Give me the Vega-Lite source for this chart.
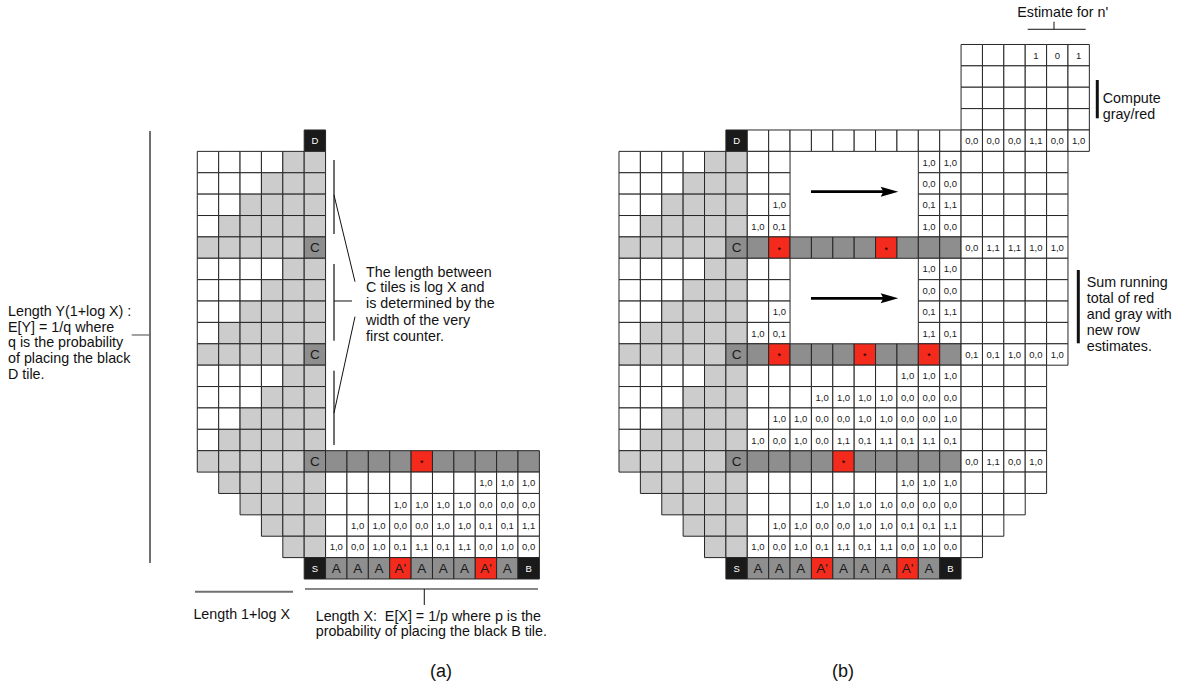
{
"$schema": "https://vega.github.io/schema/vega-lite/v6.json",
"padding": 0,
"spacing": 0,
"background": "#ffffff",
"config": {"view": {"stroke": null}, "concat": {"spacing": 0}, "font": "Liberation Sans", "text": {"font": "Liberation Sans"}},
"resolve": {"scale": {"x": "independent", "y": "independent"}},
"datasets": {
"cells": [
{"c":5,"r":0,"t":"k","s":"D"},
{"c":0,"r":1,"t":"w"},{"c":1,"r":1,"t":"w"},{"c":2,"r":1,"t":"w"},{"c":3,"r":1,"t":"w"},{"c":4,"r":1,"t":"l"},{"c":5,"r":1,"t":"l"},
{"c":0,"r":2,"t":"w"},{"c":1,"r":2,"t":"w"},{"c":2,"r":2,"t":"w"},{"c":3,"r":2,"t":"l"},{"c":4,"r":2,"t":"l"},{"c":5,"r":2,"t":"l"},
{"c":0,"r":3,"t":"w"},{"c":1,"r":3,"t":"w"},{"c":2,"r":3,"t":"l"},{"c":3,"r":3,"t":"l"},{"c":4,"r":3,"t":"l"},{"c":5,"r":3,"t":"l"},
{"c":0,"r":4,"t":"w"},{"c":1,"r":4,"t":"l"},{"c":2,"r":4,"t":"l"},{"c":3,"r":4,"t":"l"},{"c":4,"r":4,"t":"l"},{"c":5,"r":4,"t":"l"},
{"c":0,"r":5,"t":"l"},{"c":1,"r":5,"t":"l"},{"c":2,"r":5,"t":"l"},{"c":3,"r":5,"t":"l"},{"c":4,"r":5,"t":"l"},{"c":5,"r":5,"t":"d","s":"C"},
{"c":0,"r":6,"t":"w"},{"c":1,"r":6,"t":"w"},{"c":2,"r":6,"t":"w"},{"c":3,"r":6,"t":"w"},{"c":4,"r":6,"t":"l"},{"c":5,"r":6,"t":"l"},
{"c":0,"r":7,"t":"w"},{"c":1,"r":7,"t":"w"},{"c":2,"r":7,"t":"w"},{"c":3,"r":7,"t":"l"},{"c":4,"r":7,"t":"l"},{"c":5,"r":7,"t":"l"},
{"c":0,"r":8,"t":"w"},{"c":1,"r":8,"t":"w"},{"c":2,"r":8,"t":"l"},{"c":3,"r":8,"t":"l"},{"c":4,"r":8,"t":"l"},{"c":5,"r":8,"t":"l"},
{"c":0,"r":9,"t":"w"},{"c":1,"r":9,"t":"l"},{"c":2,"r":9,"t":"l"},{"c":3,"r":9,"t":"l"},{"c":4,"r":9,"t":"l"},{"c":5,"r":9,"t":"l"},
{"c":0,"r":10,"t":"l"},{"c":1,"r":10,"t":"l"},{"c":2,"r":10,"t":"l"},{"c":3,"r":10,"t":"l"},{"c":4,"r":10,"t":"l"},{"c":5,"r":10,"t":"d","s":"C"},
{"c":0,"r":11,"t":"w"},{"c":1,"r":11,"t":"w"},{"c":2,"r":11,"t":"w"},{"c":3,"r":11,"t":"w"},{"c":4,"r":11,"t":"l"},{"c":5,"r":11,"t":"l"},
{"c":0,"r":12,"t":"w"},{"c":1,"r":12,"t":"w"},{"c":2,"r":12,"t":"w"},{"c":3,"r":12,"t":"l"},{"c":4,"r":12,"t":"l"},{"c":5,"r":12,"t":"l"},
{"c":0,"r":13,"t":"w"},{"c":1,"r":13,"t":"w"},{"c":2,"r":13,"t":"l"},{"c":3,"r":13,"t":"l"},{"c":4,"r":13,"t":"l"},{"c":5,"r":13,"t":"l"},
{"c":0,"r":14,"t":"w"},{"c":1,"r":14,"t":"l"},{"c":2,"r":14,"t":"l"},{"c":3,"r":14,"t":"l"},{"c":4,"r":14,"t":"l"},{"c":5,"r":14,"t":"l"},
{"c":0,"r":15,"t":"l"},{"c":1,"r":15,"t":"l"},{"c":2,"r":15,"t":"l"},{"c":3,"r":15,"t":"l"},{"c":4,"r":15,"t":"l"},{"c":5,"r":15,"t":"d","s":"C"},
{"c":6,"r":15,"t":"d"},{"c":7,"r":15,"t":"d"},{"c":8,"r":15,"t":"d"},{"c":9,"r":15,"t":"d"},{"c":10,"r":15,"t":"r","s":"*"},{"c":11,"r":15,"t":"d"},{"c":12,"r":15,"t":"d"},{"c":13,"r":15,"t":"d"},{"c":14,"r":15,"t":"d"},{"c":15,"r":15,"t":"d"},
{"c":1,"r":16,"t":"l"},{"c":2,"r":16,"t":"l"},{"c":3,"r":16,"t":"l"},{"c":4,"r":16,"t":"l"},{"c":5,"r":16,"t":"l"},
{"c":6,"r":16,"t":"w"},{"c":7,"r":16,"t":"w"},{"c":8,"r":16,"t":"w"},{"c":9,"r":16,"t":"w"},{"c":10,"r":16,"t":"w"},{"c":11,"r":16,"t":"w"},{"c":12,"r":16,"t":"w"},{"c":13,"r":16,"t":"w","s":"1,0"},{"c":14,"r":16,"t":"w","s":"1,0"},{"c":15,"r":16,"t":"w","s":"1,0"},
{"c":2,"r":17,"t":"l"},{"c":3,"r":17,"t":"l"},{"c":4,"r":17,"t":"l"},{"c":5,"r":17,"t":"l"},
{"c":6,"r":17,"t":"w"},{"c":7,"r":17,"t":"w"},{"c":8,"r":17,"t":"w"},{"c":9,"r":17,"t":"w","s":"1,0"},{"c":10,"r":17,"t":"w","s":"1,0"},{"c":11,"r":17,"t":"w","s":"1,0"},{"c":12,"r":17,"t":"w","s":"1,0"},{"c":13,"r":17,"t":"w","s":"0,0"},{"c":14,"r":17,"t":"w","s":"0,0"},{"c":15,"r":17,"t":"w","s":"0,0"},
{"c":3,"r":18,"t":"l"},{"c":4,"r":18,"t":"l"},{"c":5,"r":18,"t":"l"},
{"c":6,"r":18,"t":"w"},{"c":7,"r":18,"t":"w","s":"1,0"},{"c":8,"r":18,"t":"w","s":"1,0"},{"c":9,"r":18,"t":"w","s":"0,0"},{"c":10,"r":18,"t":"w","s":"0,0"},{"c":11,"r":18,"t":"w","s":"1,0"},{"c":12,"r":18,"t":"w","s":"1,0"},{"c":13,"r":18,"t":"w","s":"0,1"},{"c":14,"r":18,"t":"w","s":"0,1"},{"c":15,"r":18,"t":"w","s":"1,1"},
{"c":4,"r":19,"t":"l"},{"c":5,"r":19,"t":"l"},
{"c":6,"r":19,"t":"w","s":"1,0"},{"c":7,"r":19,"t":"w","s":"0,0"},{"c":8,"r":19,"t":"w","s":"1,0"},{"c":9,"r":19,"t":"w","s":"0,1"},{"c":10,"r":19,"t":"w","s":"1,1"},{"c":11,"r":19,"t":"w","s":"0,1"},{"c":12,"r":19,"t":"w","s":"1,1"},{"c":13,"r":19,"t":"w","s":"0,0"},{"c":14,"r":19,"t":"w","s":"1,0"},{"c":15,"r":19,"t":"w","s":"0,0"},
{"c":5,"r":20,"t":"k","s":"S"},{"c":6,"r":20,"t":"d","s":"A"},{"c":7,"r":20,"t":"d","s":"A"},{"c":8,"r":20,"t":"d","s":"A"},{"c":9,"r":20,"t":"r","s":"A'"},{"c":10,"r":20,"t":"d","s":"A"},{"c":11,"r":20,"t":"d","s":"A"},{"c":12,"r":20,"t":"d","s":"A"},{"c":13,"r":20,"t":"r","s":"A'"},{"c":14,"r":20,"t":"d","s":"A"},{"c":15,"r":20,"t":"k","s":"B"},

{"c":16,"r":-4,"t":"w","p":"b"},{"c":17,"r":-4,"t":"w","p":"b"},{"c":18,"r":-4,"t":"w","p":"b"},{"c":19,"r":-4,"t":"w","s":"1","p":"b"},{"c":20,"r":-4,"t":"w","s":"0","p":"b"},{"c":21,"r":-4,"t":"w","s":"1","p":"b"},
{"c":16,"r":-3,"t":"w","p":"b"},{"c":17,"r":-3,"t":"w","p":"b"},{"c":18,"r":-3,"t":"w","p":"b"},{"c":19,"r":-3,"t":"w","p":"b"},{"c":20,"r":-3,"t":"w","p":"b"},{"c":21,"r":-3,"t":"w","p":"b"},
{"c":16,"r":-2,"t":"w","p":"b"},{"c":17,"r":-2,"t":"w","p":"b"},{"c":18,"r":-2,"t":"w","p":"b"},{"c":19,"r":-2,"t":"w","p":"b"},{"c":20,"r":-2,"t":"w","p":"b"},{"c":21,"r":-2,"t":"w","p":"b"},
{"c":16,"r":-1,"t":"w","p":"b"},{"c":17,"r":-1,"t":"w","p":"b"},{"c":18,"r":-1,"t":"w","p":"b"},{"c":19,"r":-1,"t":"w","p":"b"},{"c":20,"r":-1,"t":"w","p":"b"},{"c":21,"r":-1,"t":"w","p":"b"},
{"c":6,"r":0,"t":"w","p":"b"},{"c":7,"r":0,"t":"w","p":"b"},{"c":8,"r":0,"t":"w","p":"b"},{"c":9,"r":0,"t":"w","p":"b"},{"c":10,"r":0,"t":"w","p":"b"},{"c":11,"r":0,"t":"w","p":"b"},{"c":12,"r":0,"t":"w","p":"b"},{"c":13,"r":0,"t":"w","p":"b"},{"c":14,"r":0,"t":"w","p":"b"},{"c":15,"r":0,"t":"w","p":"b"},
{"c":16,"r":0,"t":"w","s":"0,0","p":"b"},{"c":17,"r":0,"t":"w","s":"0,0","p":"b"},{"c":18,"r":0,"t":"w","s":"0,0","p":"b"},{"c":19,"r":0,"t":"w","s":"1,1","p":"b"},{"c":20,"r":0,"t":"w","s":"0,0","p":"b"},{"c":21,"r":0,"t":"w","s":"1,0","p":"b"},
{"c":6,"r":1,"t":"w","p":"b"},{"c":7,"r":1,"t":"w","p":"b"},{"c":14,"r":1,"t":"w","s":"1,0","p":"b"},{"c":15,"r":1,"t":"w","s":"1,0","p":"b"},
{"c":16,"r":1,"t":"w","p":"b"},{"c":17,"r":1,"t":"w","p":"b"},{"c":18,"r":1,"t":"w","p":"b"},{"c":19,"r":1,"t":"w","p":"b"},{"c":20,"r":1,"t":"w","p":"b"},
{"c":6,"r":2,"t":"w","p":"b"},{"c":7,"r":2,"t":"w","p":"b"},{"c":14,"r":2,"t":"w","s":"0,0","p":"b"},{"c":15,"r":2,"t":"w","s":"0,0","p":"b"},
{"c":16,"r":2,"t":"w","p":"b"},{"c":17,"r":2,"t":"w","p":"b"},{"c":18,"r":2,"t":"w","p":"b"},{"c":19,"r":2,"t":"w","p":"b"},{"c":20,"r":2,"t":"w","p":"b"},
{"c":6,"r":3,"t":"w","p":"b"},{"c":7,"r":3,"t":"w","s":"1,0","p":"b"},{"c":14,"r":3,"t":"w","s":"0,1","p":"b"},{"c":15,"r":3,"t":"w","s":"1,1","p":"b"},
{"c":16,"r":3,"t":"w","p":"b"},{"c":17,"r":3,"t":"w","p":"b"},{"c":18,"r":3,"t":"w","p":"b"},{"c":19,"r":3,"t":"w","p":"b"},{"c":20,"r":3,"t":"w","p":"b"},
{"c":6,"r":4,"t":"w","s":"1,0","p":"b"},{"c":7,"r":4,"t":"w","s":"0,1","p":"b"},{"c":14,"r":4,"t":"w","s":"1,0","p":"b"},{"c":15,"r":4,"t":"w","s":"0,0","p":"b"},
{"c":16,"r":4,"t":"w","p":"b"},{"c":17,"r":4,"t":"w","p":"b"},{"c":18,"r":4,"t":"w","p":"b"},{"c":19,"r":4,"t":"w","p":"b"},{"c":20,"r":4,"t":"w","p":"b"},
{"c":6,"r":5,"t":"d","p":"b"},{"c":7,"r":5,"t":"r","s":"*","p":"b"},{"c":8,"r":5,"t":"d","p":"b"},{"c":9,"r":5,"t":"d","p":"b"},{"c":10,"r":5,"t":"d","p":"b"},{"c":11,"r":5,"t":"d","p":"b"},{"c":12,"r":5,"t":"r","s":"*","p":"b"},{"c":13,"r":5,"t":"d","p":"b"},{"c":14,"r":5,"t":"d","p":"b"},{"c":15,"r":5,"t":"d","p":"b"},
{"c":16,"r":5,"t":"w","s":"0,0","p":"b"},{"c":17,"r":5,"t":"w","s":"1,1","p":"b"},{"c":18,"r":5,"t":"w","s":"1,1","p":"b"},{"c":19,"r":5,"t":"w","s":"1,0","p":"b"},{"c":20,"r":5,"t":"w","s":"1,0","p":"b"},
{"c":6,"r":6,"t":"w","p":"b"},{"c":7,"r":6,"t":"w","p":"b"},{"c":14,"r":6,"t":"w","s":"1,0","p":"b"},{"c":15,"r":6,"t":"w","s":"1,0","p":"b"},
{"c":16,"r":6,"t":"w","p":"b"},{"c":17,"r":6,"t":"w","p":"b"},{"c":18,"r":6,"t":"w","p":"b"},{"c":19,"r":6,"t":"w","p":"b"},{"c":20,"r":6,"t":"w","p":"b"},
{"c":6,"r":7,"t":"w","p":"b"},{"c":7,"r":7,"t":"w","p":"b"},{"c":14,"r":7,"t":"w","s":"0,0","p":"b"},{"c":15,"r":7,"t":"w","s":"0,0","p":"b"},
{"c":16,"r":7,"t":"w","p":"b"},{"c":17,"r":7,"t":"w","p":"b"},{"c":18,"r":7,"t":"w","p":"b"},{"c":19,"r":7,"t":"w","p":"b"},{"c":20,"r":7,"t":"w","p":"b"},
{"c":6,"r":8,"t":"w","p":"b"},{"c":7,"r":8,"t":"w","s":"1,0","p":"b"},{"c":14,"r":8,"t":"w","s":"0,1","p":"b"},{"c":15,"r":8,"t":"w","s":"1,1","p":"b"},
{"c":16,"r":8,"t":"w","p":"b"},{"c":17,"r":8,"t":"w","p":"b"},{"c":18,"r":8,"t":"w","p":"b"},{"c":19,"r":8,"t":"w","p":"b"},{"c":20,"r":8,"t":"w","p":"b"},
{"c":6,"r":9,"t":"w","s":"1,0","p":"b"},{"c":7,"r":9,"t":"w","s":"0,1","p":"b"},{"c":14,"r":9,"t":"w","s":"1,1","p":"b"},{"c":15,"r":9,"t":"w","s":"0,1","p":"b"},
{"c":16,"r":9,"t":"w","p":"b"},{"c":17,"r":9,"t":"w","p":"b"},{"c":18,"r":9,"t":"w","p":"b"},{"c":19,"r":9,"t":"w","p":"b"},{"c":20,"r":9,"t":"w","p":"b"},
{"c":6,"r":10,"t":"d","p":"b"},{"c":7,"r":10,"t":"r","s":"*","p":"b"},{"c":8,"r":10,"t":"d","p":"b"},{"c":9,"r":10,"t":"d","p":"b"},{"c":10,"r":10,"t":"d","p":"b"},{"c":11,"r":10,"t":"r","s":"*","p":"b"},{"c":12,"r":10,"t":"d","p":"b"},{"c":13,"r":10,"t":"d","p":"b"},{"c":14,"r":10,"t":"r","s":"*","p":"b"},{"c":15,"r":10,"t":"d","p":"b"},
{"c":16,"r":10,"t":"w","s":"0,1","p":"b"},{"c":17,"r":10,"t":"w","s":"0,1","p":"b"},{"c":18,"r":10,"t":"w","s":"1,0","p":"b"},{"c":19,"r":10,"t":"w","s":"0,0","p":"b"},{"c":20,"r":10,"t":"w","s":"1,0","p":"b"},
{"c":6,"r":11,"t":"w","p":"b"},{"c":7,"r":11,"t":"w","p":"b"},{"c":8,"r":11,"t":"w","p":"b"},{"c":9,"r":11,"t":"w","p":"b"},{"c":10,"r":11,"t":"w","p":"b"},{"c":11,"r":11,"t":"w","p":"b"},{"c":12,"r":11,"t":"w","p":"b"},{"c":13,"r":11,"t":"w","s":"1,0","p":"b"},{"c":14,"r":11,"t":"w","s":"1,0","p":"b"},{"c":15,"r":11,"t":"w","s":"1,0","p":"b"},
{"c":16,"r":11,"t":"w","p":"b"},{"c":17,"r":11,"t":"w","p":"b"},{"c":18,"r":11,"t":"w","p":"b"},{"c":19,"r":11,"t":"w","p":"b"},
{"c":6,"r":12,"t":"w","p":"b"},{"c":7,"r":12,"t":"w","p":"b"},{"c":8,"r":12,"t":"w","p":"b"},{"c":9,"r":12,"t":"w","s":"1,0","p":"b"},{"c":10,"r":12,"t":"w","s":"1,0","p":"b"},{"c":11,"r":12,"t":"w","s":"1,0","p":"b"},{"c":12,"r":12,"t":"w","s":"1,0","p":"b"},{"c":13,"r":12,"t":"w","s":"0,0","p":"b"},{"c":14,"r":12,"t":"w","s":"0,0","p":"b"},{"c":15,"r":12,"t":"w","s":"0,0","p":"b"},
{"c":16,"r":12,"t":"w","p":"b"},{"c":17,"r":12,"t":"w","p":"b"},{"c":18,"r":12,"t":"w","p":"b"},{"c":19,"r":12,"t":"w","p":"b"},
{"c":6,"r":13,"t":"w","p":"b"},{"c":7,"r":13,"t":"w","s":"1,0","p":"b"},{"c":8,"r":13,"t":"w","s":"1,0","p":"b"},{"c":9,"r":13,"t":"w","s":"0,0","p":"b"},{"c":10,"r":13,"t":"w","s":"0,0","p":"b"},{"c":11,"r":13,"t":"w","s":"1,0","p":"b"},{"c":12,"r":13,"t":"w","s":"1,0","p":"b"},{"c":13,"r":13,"t":"w","s":"0,0","p":"b"},{"c":14,"r":13,"t":"w","s":"0,0","p":"b"},{"c":15,"r":13,"t":"w","s":"1,0","p":"b"},
{"c":16,"r":13,"t":"w","p":"b"},{"c":17,"r":13,"t":"w","p":"b"},{"c":18,"r":13,"t":"w","p":"b"},{"c":19,"r":13,"t":"w","p":"b"},
{"c":6,"r":14,"t":"w","s":"1,0","p":"b"},{"c":7,"r":14,"t":"w","s":"0,0","p":"b"},{"c":8,"r":14,"t":"w","s":"1,0","p":"b"},{"c":9,"r":14,"t":"w","s":"0,0","p":"b"},{"c":10,"r":14,"t":"w","s":"1,1","p":"b"},{"c":11,"r":14,"t":"w","s":"0,1","p":"b"},{"c":12,"r":14,"t":"w","s":"1,1","p":"b"},{"c":13,"r":14,"t":"w","s":"0,1","p":"b"},{"c":14,"r":14,"t":"w","s":"1,1","p":"b"},{"c":15,"r":14,"t":"w","s":"0,1","p":"b"},
{"c":16,"r":14,"t":"w","p":"b"},{"c":17,"r":14,"t":"w","p":"b"},{"c":18,"r":14,"t":"w","p":"b"},{"c":19,"r":14,"t":"w","p":"b"},
{"c":16,"r":15,"t":"w","s":"0,0","p":"b"},{"c":17,"r":15,"t":"w","s":"1,1","p":"b"},{"c":18,"r":15,"t":"w","s":"0,0","p":"b"},{"c":19,"r":15,"t":"w","s":"1,0","p":"b"},
{"c":16,"r":16,"t":"w","p":"b"},{"c":17,"r":16,"t":"w","p":"b"},{"c":18,"r":16,"t":"w","p":"b"},{"c":19,"r":16,"t":"w","p":"b"},
{"c":16,"r":17,"t":"w","p":"b"},{"c":17,"r":17,"t":"w","p":"b"},{"c":18,"r":17,"t":"w","p":"b"},
{"c":16,"r":18,"t":"w","p":"b"},{"c":17,"r":18,"t":"w","p":"b"},
{"c":16,"r":19,"t":"w","p":"b"}
],
"linesA": [
{"c":-2.712,"r":-0.453,"c2":-2.712,"r2":19.754,"g":"gray"},
{"c":-3.568,"r":9.088,"c2":-2.712,"r2":9.088,"g":"grayThin"},
{"c":5.894,"r":0.903,"c2":5.894,"r2":4.364,"g":"gray"},
{"c":5.894,"r":5.768,"c2":5.894,"r2":9.355,"g":"gray"},
{"c":5.894,"r":10.758,"c2":5.894,"r2":14.233,"g":"gray"},
{"c":5.894,"r":2.54,"c2":6.876,"r2":6.595,"g":"thin"},
{"c":5.894,"r":7.498,"c2":6.736,"r2":7.498,"g":"thin"},
{"c":6.876,"r":8.232,"c2":5.894,"r2":12.737,"g":"thin"},
{"c":-0.608,"r":21.095,"c2":3.976,"r2":21.095,"g":"gray"},
{"c":4.537,"r":20.968,"c2":15.435,"r2":20.968,"g":"thin"},
{"c":10.117,"r":20.968,"c2":10.117,"r2":21.717,"g":"thin"}
],
"linesB": [
{"c":18.616,"r":-5.21,"c2":21.329,"r2":-5.21,"g":"thin"},
{"c":19.846,"r":-5.565,"c2":19.846,"r2":-5.21,"g":"thin"},
{"c":21.871,"r":-2.839,"c2":21.871,"r2":-1.047,"g":"thick"},
{"c":20.983,"r":6.048,"c2":20.983,"r2":9.477,"g":"thick"},
{"c":8.48,"r":2.386,"c2":12.0,"r2":2.386,"g":"arrow"},
{"c":8.48,"r":7.372,"c2":12.0,"r2":7.372,"g":"arrow"}
],
"headsB": [
{"c":12.152,"r":2.386},
{"c":12.152,"r":7.372}
],
"textA": [
{"c":-9.354,"r":7.999,"s":"Length Y(1+log X) :","k":"L"},
{"c":-9.354,"r":8.747,"s":"E[Y] = 1/q where","k":"L"},
{"c":-9.354,"r":9.477,"s":"q is the probability","k":"L"},
{"c":-9.354,"r":10.225,"s":"of placing the black","k":"L"},
{"c":-9.354,"r":10.959,"s":"D tile.","k":"L"},
{"c":7.391,"r":6.174,"s":"The length between","k":"L"},
{"c":7.391,"r":6.904,"s":"C tiles is log X and","k":"L"},
{"c":7.391,"r":7.652,"s":"is determined by the","k":"L"},
{"c":7.391,"r":8.42,"s":"width of the very","k":"L"},
{"c":7.391,"r":9.168,"s":"first counter.","k":"L"},
{"c":1.577,"r":22.185,"s":"Length 1+log X","k":"C"},
{"c":5.038,"r":22.264,"s":"Length X:\u00a0 E[X] = 1/p where p is the","k":"L"},
{"c":5.038,"r":22.98,"s":"probability of placing the black B tile.","k":"L"},
{"c":10.898,"r":24.837,"s":"(a)","k":"P"}
],
"textB": [
{"c":20.253,"r":-5.972,"s":"Estimate for n'","k":"C"},
{"c":22.124,"r":-1.936,"s":"Compute","k":"L"},
{"c":22.124,"r":-1.202,"s":"gray/red","k":"L"},
{"c":21.376,"r":6.67,"s":"Sum running","k":"L"},
{"c":21.376,"r":7.405,"s":"total of red","k":"L"},
{"c":21.376,"r":8.153,"s":"and gray with","k":"L"},
{"c":21.376,"r":8.901,"s":"new row","k":"L"},
{"c":21.376,"r":9.664,"s":"estimates.","k":"L"},
{"c":9.977,"r":24.837,"s":"(b)","k":"P"}
]
},
"hconcat": [
{
"width": 580, "height": 687,
"encoding": {
 "x": {"field": "c", "type": "quantitative", "scale": {"domain": [-9.728, 17.4], "nice": false, "zero": false}, "axis": null},
 "y": {"field": "r", "type": "quantitative", "scale": {"domain": [-6.58, 25.552], "reverse": true, "nice": false, "zero": false}, "axis": null}
},
"layer": [
 {"data": {"name": "cells"}, "transform": [{"filter": "datum.p !== 'b'"}],
  "layer": [
   {"mark": {"type": "rect", "width": 21.38, "height": 21.38, "stroke": "#262626", "strokeWidth": 1},
    "encoding": {"fill": {"field": "t", "type": "nominal", "scale": {"domain": ["w","l","d","r","k"], "range": ["#ffffff","#cccccc","#8e8e8e","#f42a1c","#1a1a1a"]}, "legend": null}}},
   {"transform": [{"filter": "datum.t == 'w' && isValid(datum.s)"}],
    "mark": {"type": "text", "fontSize": 9.5, "fill": "#1a1a1a", "align": "center", "baseline": "middle", "dy": 0.5},
    "encoding": {"text": {"field": "s"}}},
   {"transform": [{"filter": "(datum.t == 'd' || datum.t == 'r') && isValid(datum.s) && datum.s != '*'"}],
    "mark": {"type": "text", "fontSize": 13.5, "fill": "#1a1a1a", "align": "center", "baseline": "middle", "dy": 0.5},
    "encoding": {"text": {"field": "s"}}},
   {"transform": [{"filter": "datum.s == '*'"}],
    "mark": {"type": "text", "fontSize": 9, "fill": "#000000", "align": "center", "baseline": "middle", "dy": 2},
    "encoding": {"text": {"field": "s"}}},
   {"transform": [{"filter": "datum.t == 'k'"}],
    "mark": {"type": "text", "fontSize": 9.5, "fill": "#ffffff", "align": "center", "baseline": "middle", "dy": 0.5},
    "encoding": {"text": {"field": "s"}}}
  ]},
 {"data": {"name": "linesA"},
  "layer": [
   {"transform": [{"filter": "datum.g == 'gray'"}], "mark": {"type": "rule", "stroke": "#707070", "strokeWidth": 2}, "encoding": {"x2": {"field": "c2"}, "y2": {"field": "r2"}}},
   {"transform": [{"filter": "datum.g == 'grayThin'"}], "mark": {"type": "rule", "stroke": "#707070", "strokeWidth": 1.3}, "encoding": {"x2": {"field": "c2"}, "y2": {"field": "r2"}}},
   {"transform": [{"filter": "datum.g == 'thin'"}], "mark": {"type": "rule", "stroke": "#111111", "strokeWidth": 1}, "encoding": {"x2": {"field": "c2"}, "y2": {"field": "r2"}}}
  ]},
 {"data": {"name": "textA"},
  "layer": [
   {"transform": [{"filter": "datum.k == 'L'"}], "mark": {"type": "text", "fontSize": 14.3, "fill": "#111111", "align": "left", "baseline": "middle"}, "encoding": {"text": {"field": "s"}}},
   {"transform": [{"filter": "datum.k == 'C'"}], "mark": {"type": "text", "fontSize": 14.3, "fill": "#111111", "align": "center", "baseline": "middle"}, "encoding": {"text": {"field": "s"}}},
   {"transform": [{"filter": "datum.k == 'P'"}], "mark": {"type": "text", "fontSize": 18, "fill": "#111111", "align": "center", "baseline": "middle"}, "encoding": {"text": {"field": "s"}}}
  ]}
]
},
{
"width": 598, "height": 687,
"encoding": {
 "x": {"field": "c", "type": "quantitative", "scale": {"domain": [-2.324, 25.646], "nice": false, "zero": false}, "axis": null},
 "y": {"field": "r", "type": "quantitative", "scale": {"domain": [-6.58, 25.552], "reverse": true, "nice": false, "zero": false}, "axis": null}
},
"layer": [
 {"data": {"name": "cells"},
  "layer": [
   {"mark": {"type": "rect", "width": 21.38, "height": 21.38, "stroke": "#262626", "strokeWidth": 1},
    "encoding": {"fill": {"field": "t", "type": "nominal", "scale": {"domain": ["w","l","d","r","k"], "range": ["#ffffff","#cccccc","#8e8e8e","#f42a1c","#1a1a1a"]}, "legend": null}}},
   {"transform": [{"filter": "datum.t == 'w' && isValid(datum.s)"}],
    "mark": {"type": "text", "fontSize": 9.5, "fill": "#1a1a1a", "align": "center", "baseline": "middle", "dy": 0.5},
    "encoding": {"text": {"field": "s"}}},
   {"transform": [{"filter": "(datum.t == 'd' || datum.t == 'r') && isValid(datum.s) && datum.s != '*'"}],
    "mark": {"type": "text", "fontSize": 13.5, "fill": "#1a1a1a", "align": "center", "baseline": "middle", "dy": 0.5},
    "encoding": {"text": {"field": "s"}}},
   {"transform": [{"filter": "datum.s == '*'"}],
    "mark": {"type": "text", "fontSize": 9, "fill": "#000000", "align": "center", "baseline": "middle", "dy": 2},
    "encoding": {"text": {"field": "s"}}},
   {"transform": [{"filter": "datum.t == 'k'"}],
    "mark": {"type": "text", "fontSize": 9.5, "fill": "#ffffff", "align": "center", "baseline": "middle", "dy": 0.5},
    "encoding": {"text": {"field": "s"}}}
  ]},
 {"data": {"name": "linesB"},
  "layer": [
   {"transform": [{"filter": "datum.g == 'thin'"}], "mark": {"type": "rule", "stroke": "#111111", "strokeWidth": 1}, "encoding": {"x2": {"field": "c2"}, "y2": {"field": "r2"}}},
   {"transform": [{"filter": "datum.g == 'thick'"}], "mark": {"type": "rule", "stroke": "#111111", "strokeWidth": 3}, "encoding": {"x2": {"field": "c2"}, "y2": {"field": "r2"}}},
   {"transform": [{"filter": "datum.g == 'arrow'"}], "mark": {"type": "rule", "stroke": "#000000", "strokeWidth": 2.7}, "encoding": {"x2": {"field": "c2"}, "y2": {"field": "r2"}}}
  ]},
 {"data": {"name": "headsB"},
  "mark": {"type": "point", "shape": "M1,0L-1,-0.57L-0.7,0L-1,0.57Z", "size": 310, "filled": true, "fill": "#000000", "opacity": 1, "strokeWidth": 0},
  "encoding": {}},
 {"data": {"name": "textB"},
  "layer": [
   {"transform": [{"filter": "datum.k == 'L'"}], "mark": {"type": "text", "fontSize": 14.3, "fill": "#111111", "align": "left", "baseline": "middle"}, "encoding": {"text": {"field": "s"}}},
   {"transform": [{"filter": "datum.k == 'C'"}], "mark": {"type": "text", "fontSize": 14.3, "fill": "#111111", "align": "center", "baseline": "middle"}, "encoding": {"text": {"field": "s"}}},
   {"transform": [{"filter": "datum.k == 'P'"}], "mark": {"type": "text", "fontSize": 18, "fill": "#111111", "align": "center", "baseline": "middle"}, "encoding": {"text": {"field": "s"}}}
  ]}
]
}
]
}
